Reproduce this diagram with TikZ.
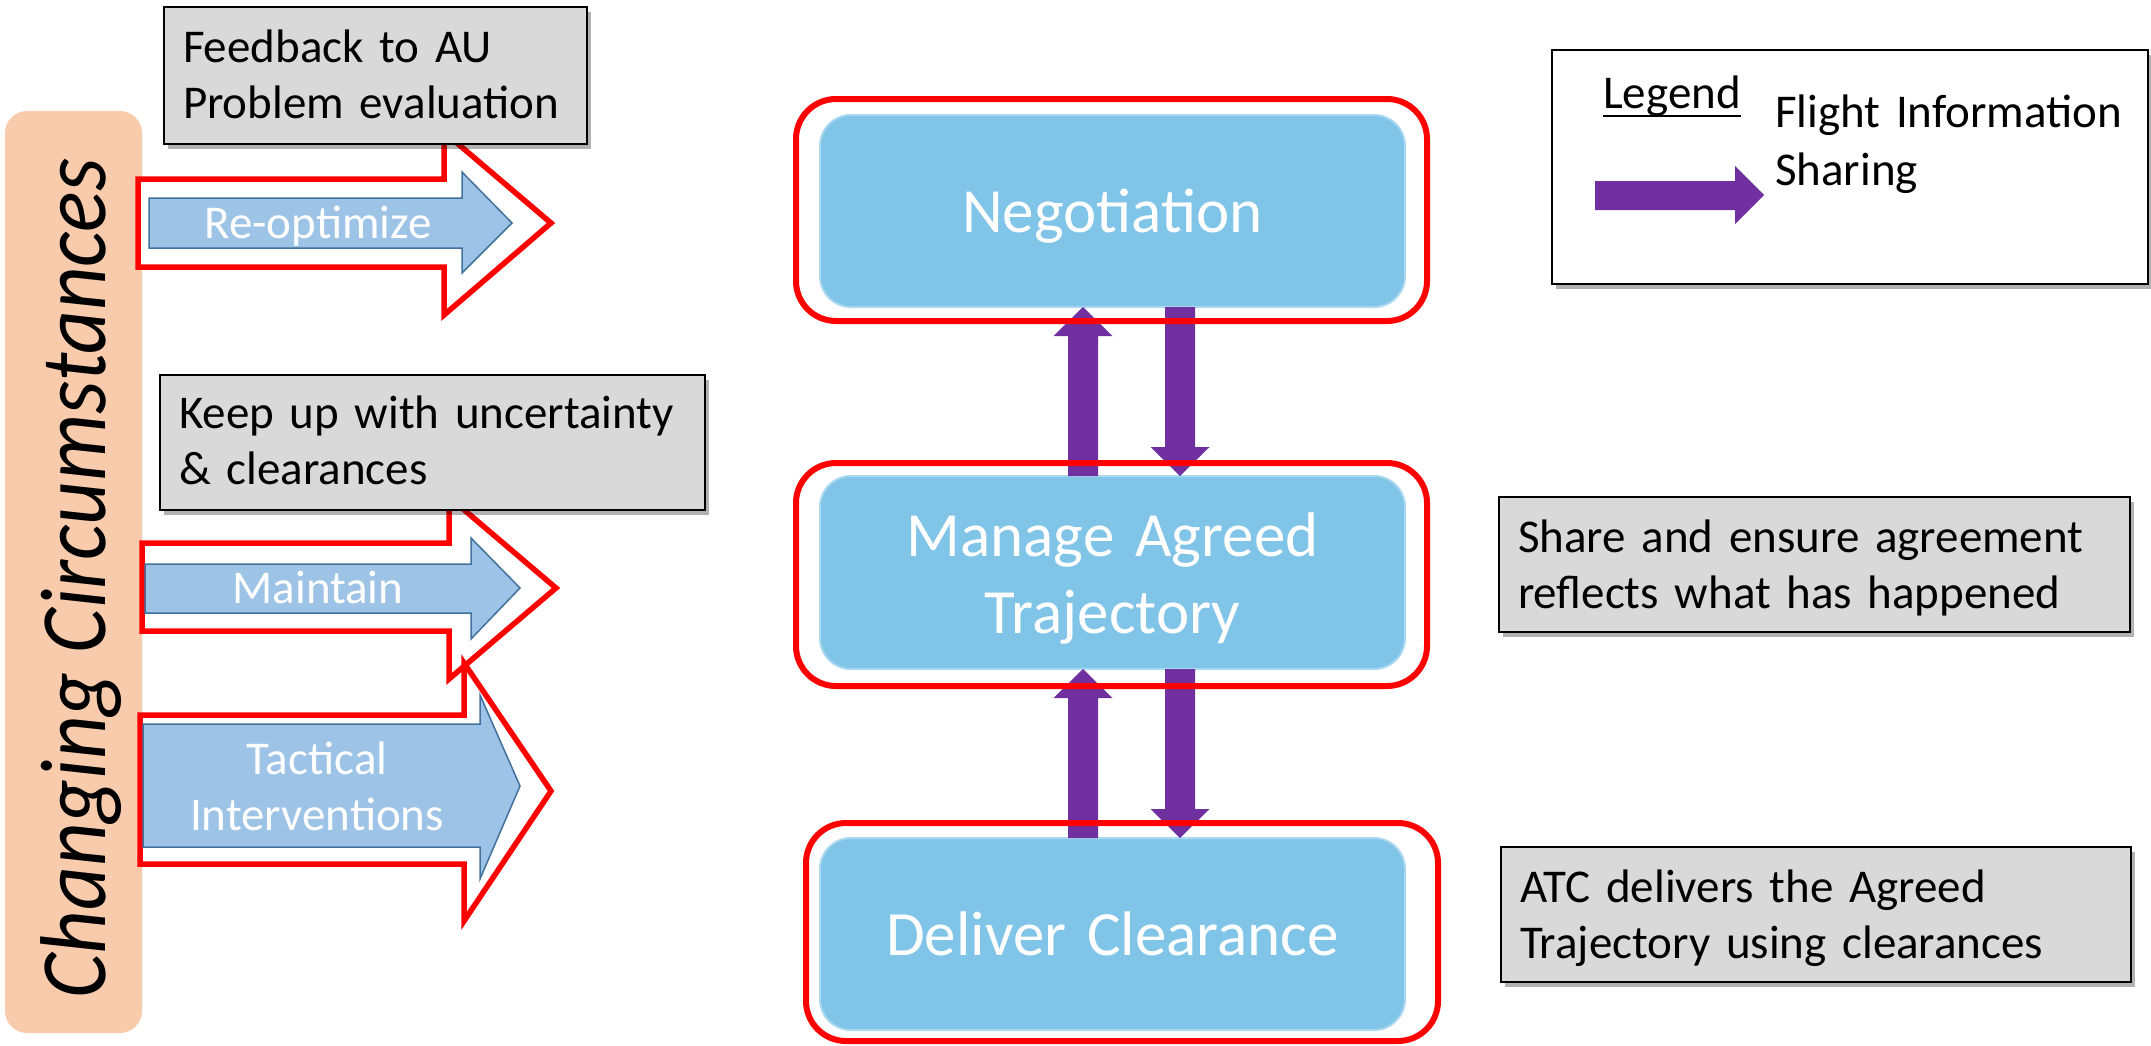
\documentclass[tikz,border=0pt]{standalone}
\usepackage{fontspec}
\setmainfont{Carlito}
\usetikzlibrary{calc,shadows}
\definecolor{redline}{RGB}{255,0,0}
\definecolor{barorange}{RGB}{248,203,173}
\definecolor{arrowblue}{RGB}{157,195,230}
\definecolor{arrowedge}{RGB}{65,113,156}
\definecolor{procblue}{RGB}{128,196,232}
\definecolor{procedge}{RGB}{170,216,240}
\definecolor{fispurple}{RGB}{112,48,160}
\definecolor{notegray}{RGB}{217,217,217}
\tikzset{
  shadowed/.style={drop shadow={shadow xshift=4pt, shadow yshift=-5pt, opacity=0.3, fill=black}},
  notebox/.style={draw=black, line width=2.5pt, fill=notegray, anchor=north west,
    inner xsep=19pt, inner ysep=0pt, outer sep=0pt, align=left, text height=0pt,
    font=\fontsize{47}{56.5}\selectfont, shadowed},
  procbox/.style={fill=procblue, draw=procedge, line width=2pt, rounded corners=31pt,
    minimum width=585pt, text width=545pt, align=center, text=white,
    font=\fontsize{63}{77}\selectfont, inner sep=0pt, outer sep=0pt},
  procring/.style={draw=redline, line width=6pt, rounded corners=40pt},
  redarrow/.style={draw=redline, line width=5.5pt, fill=white},
  bluearrow/.style={draw=arrowedge, line width=1.5pt, fill=arrowblue},
  arrowtext/.style={text=white, font=\fontsize{47}{56}\selectfont, anchor=base, inner sep=0pt},
  fisarrow/.style={fill=fispurple},
  legtext/.style={font=\fontsize{47}{58}\selectfont, inner sep=0pt, anchor=base west}
}
\newcommand\FisUp[3]{%
  \fill[fisarrow] let \p1=(#2.south), \p2=(#1.north) in
  ({\x1+(#3)},{\y1}) -- ({\x1+(#3)+29.5pt},{\y1-29pt}) -- ({\x1+(#3)+15pt},{\y1-29pt})
  -- ({\x1+(#3)+15pt},{\y2}) -- ({\x1+(#3)-15pt},{\y2}) -- ({\x1+(#3)-15pt},{\y1-29pt})
  -- ({\x1+(#3)-29.5pt},{\y1-29pt}) -- cycle;}
\newcommand\FisDown[3]{%
  \fill[fisarrow] let \p1=(#1.south), \p2=(#2.north) in
  ({\x1+(#3)-15pt},{\y1}) -- ({\x1+(#3)+15pt},{\y1}) -- ({\x1+(#3)+15pt},{\y2+29pt})
  -- ({\x1+(#3)+29.5pt},{\y2+29pt}) -- ({\x1+(#3)},{\y2}) -- ({\x1+(#3)-29.5pt},{\y2+29pt})
  -- ({\x1+(#3)-15pt},{\y2+29pt}) -- cycle;}
\begin{document}
\begin{tikzpicture}[x=1pt,y=-1pt]
\useasboundingbox (0,0) rectangle (2151,1045);
\fill[white] (0,0) rectangle (2151,1045);

% Changing circumstances bar
\fill[barorange, rounded corners=22pt] (5,111) rectangle (142,1033);
\node[rotate=90, anchor=base, inner sep=0pt, font=\fontsize{85}{100}\selectfont\itshape] (cc) at (105,578.5) {\scalebox{1}[1.1]{Changing Circumstances}};

% Re-optimize
\draw[redarrow] (138,179) -- (444,179) -- (444,132) -- (551,223) -- (444,315) -- (444,267) -- (138,267) -- cycle;
\draw[bluearrow] (149,198) -- (462,198) -- (462,172) -- (512,223) -- (462,273) -- (462,248) -- (149,248) -- cycle;
\node[arrowtext] (reopt) at (318,238) {Re-optimize};

% Maintain
\draw[redarrow] (142,543) -- (449,543) -- (449,497) -- (556,588) -- (449,679) -- (449,631) -- (142,631) -- cycle;
\draw[bluearrow] (145,564) -- (471,564) -- (471,538) -- (520,588) -- (471,639) -- (471,613) -- (145,613) -- cycle;
\node[arrowtext] (maint) at (318,603) {Maintain};

% Tactical interventions
\draw[redarrow] (140,715) -- (464,715) -- (464,663) -- (551,791) -- (464,921) -- (464,864) -- (140,864) -- cycle;
\draw[bluearrow] (143,724) -- (480,724) -- (480,695) -- (520,786) -- (480,879) -- (480,847) -- (143,847) -- cycle;
\node[arrowtext, text width=360pt, align=center] (tact) at (317,774) {Tactical\\Interventions};

% grey notes
\node[notebox, text width=385pt, minimum width=423pt, minimum height=137pt, text depth=27pt] (fb) at (164,7) {\mbox{Feedback to AU}\\\mbox{Problem evaluation}};
\node[notebox, text width=507pt, minimum width=545pt, minimum height=135pt, text depth=29pt] (keep) at (160,375) {\mbox{Keep up with uncertainty}\\\mbox{\& clearances}};
\node[notebox, text width=593pt, minimum width=631pt, minimum height=135pt, text depth=25pt] (share) at (1499,497) {\mbox{Share and ensure agreement}\\\mbox{reflects what has happened}};
\node[notebox, text width=592pt, minimum width=630pt, minimum height=135pt, text depth=25pt] (atc) at (1501,847) {\mbox{ATC delivers the Agreed}\\\mbox{Trajectory using clearances}};

% process boxes
\node[procbox, minimum height=192pt, text height=42pt, text depth=0pt] (neg) at (1112.5,211) {Negotiation};
\node[procbox, minimum height=193pt, text height=0pt, text depth=33pt] (mat) at (1112.5,572.5) {Manage Agreed\\Trajectory};
\node[procbox, minimum height=192pt, text height=42pt, text depth=0pt] (dc) at (1112.5,934) {Deliver Clearance};

% flight information sharing arrows
\FisUp{mat}{neg}{-29.5pt}
\FisDown{neg}{mat}{67.5pt}
\FisUp{dc}{mat}{-29.5pt}
\FisDown{mat}{dc}{67.5pt}

% red rings
\draw[procring] (796,99) rectangle (1427,321);
\draw[procring] (796,463) rectangle (1427,686);
\draw[procring] (806,823) rectangle (1438,1041);

% legend
\node[draw=black, line width=2.5pt, fill=white, minimum width=596pt, minimum height=234pt, anchor=north west, outer sep=0pt, shadowed] (legbox) at (1552,50) {};
\node[legtext] (legtitle) at (1603,108) {Legend};
\draw[line width=2.5pt] ([yshift=-8pt]legtitle.base west) -- ([yshift=-8pt]legtitle.base east);
\node[legtext, text width=370pt, align=left] (fisname) at (1775,127) {Flight Information\\Sharing};
\fill[fispurple] (1595,181) -- (1735,181) -- (1735,166) -- (1764,195) -- (1735,224) -- (1735,210) -- (1595,210) -- cycle;
\end{tikzpicture}
\end{document}
